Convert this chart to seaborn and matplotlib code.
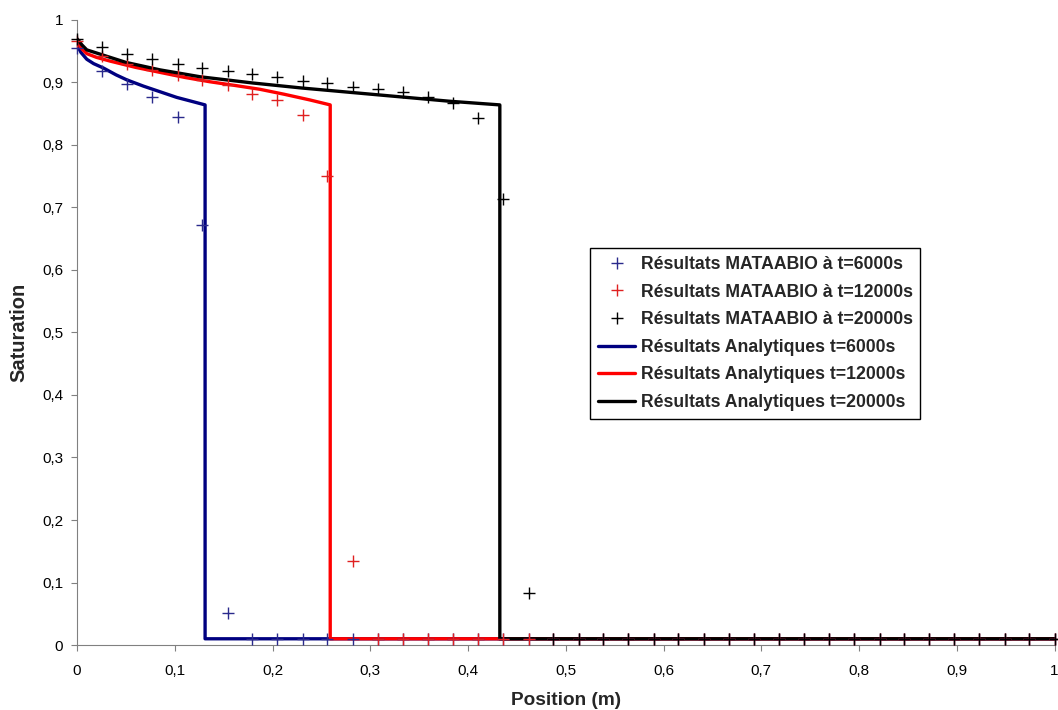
import matplotlib
matplotlib.use("Agg")
import matplotlib.pyplot as plt
import seaborn as sns
from matplotlib.lines import Line2D

# MATAABIO sample positions (m)
x_pts = [0.0, 0.026, 0.051, 0.077, 0.103, 0.128, 0.154, 0.179, 0.205, 0.231,
         0.256, 0.282, 0.308, 0.333, 0.359, 0.385, 0.41, 0.436, 0.462, 0.487,
         0.513, 0.538, 0.564, 0.59, 0.615, 0.641, 0.667, 0.692, 0.718, 0.744,
         0.769, 0.795, 0.821, 0.846, 0.872, 0.897, 0.923, 0.949, 0.974, 1.0]

# MATAABIO saturation values
sat_6000 = [0.955, 0.919, 0.897, 0.877, 0.845, 0.672, 0.052] + [0.01] * 33
sat_12000 = [0.966, 0.942, 0.929, 0.92, 0.912, 0.904, 0.896, 0.882, 0.872, 0.848,
             0.75, 0.134] + [0.01] * 28
sat_20000 = [0.97, 0.956, 0.946, 0.937, 0.93, 0.923, 0.919, 0.914, 0.908, 0.903,
             0.899, 0.893, 0.889, 0.884, 0.876, 0.867, 0.843, 0.713, 0.083] + [0.01] * 21

# analytical profiles
ana_x_6000 = [0, 0.004, 0.01, 0.017, 0.027, 0.04, 0.051, 0.068, 0.085, 0.102, 0.119, 0.131, 0.131, 1.0]
ana_y_6000 = [0.96, 0.948, 0.937, 0.93, 0.923, 0.912, 0.904, 0.894, 0.885, 0.876, 0.869, 0.864, 0.01, 0.01]
ana_x_12000 = [0, 0.004, 0.01, 0.02, 0.034, 0.06, 0.085, 0.11, 0.136, 0.162, 0.187, 0.212, 0.238, 0.259, 0.259, 1.0]
ana_y_12000 = [0.967, 0.955, 0.946, 0.94, 0.934, 0.924, 0.916, 0.908, 0.901, 0.895, 0.889, 0.881, 0.872, 0.864, 0.01, 0.01]
ana_x_20000 = [0, 0.005, 0.01, 0.026, 0.05, 0.085, 0.126, 0.18, 0.23, 0.28, 0.33, 0.38, 0.4325, 0.4325, 1.0]
ana_y_20000 = [0.97, 0.96, 0.952, 0.944, 0.932, 0.92, 0.909, 0.899, 0.891, 0.884, 0.877, 0.87, 0.864, 0.01, 0.01]

ticks = [0, 0.1, 0.2, 0.3, 0.4, 0.5, 0.6, 0.7, 0.8, 0.9, 1.0]
tick_labels = ["0", "0,1", "0,2", "0,3", "0,4", "0,5", "0,6", "0,7", "0,8", "0,9", "1"]

sns.set_style("ticks")
plt.rcParams['font.family'] = ['Liberation Sans', 'DejaVu Sans']

fig = plt.figure(figsize=(10.58, 7.10), dpi=100)
ax = fig.add_axes([0.0728, 0.0915, 0.924, 0.8805])

blue_line, red_line = "#000080", "#ff0000"
blue_pt, red_pt = "#2a2a8c", "#e02020"

for xs, ys, c in [(ana_x_6000, ana_y_6000, blue_line),
                  (ana_x_12000, ana_y_12000, red_line),
                  (ana_x_20000, ana_y_20000, "black")]:
    sns.lineplot(x=xs, y=ys, sort=False, estimator=None, color=c, lw=2.4, ax=ax)

for ys, c in [(sat_6000, blue_pt), (sat_12000, red_pt), (sat_20000, "black")]:
    sns.scatterplot(x=x_pts, y=ys, marker="+", s=80, color=c, linewidth=1.0,
                    ax=ax, clip_on=False, zorder=3)

ax.set_xlim(0, 1)
ax.set_ylim(0, 1)
ax.set_xticks(ticks)
ax.set_xticklabels(tick_labels)
ax.set_yticks(ticks)
ax.set_yticklabels(tick_labels)
ax.tick_params(labelsize=11, length=4, color="#808080", colors="black")
ax.tick_params(axis="x", pad=10)
ax.tick_params(axis="y", pad=6)
for s in ["left", "bottom"]:
    ax.spines[s].set_color("#808080")
sns.despine(ax=ax)

ax.set_xlabel("Position (m)", fontsize=13.7, fontweight="bold", labelpad=10)
ax.set_ylabel("Saturation", fontsize=14.5, fontweight="bold", labelpad=10)

handles = [
    Line2D([], [], ls="none", marker="+", ms=9, mew=1, color=blue_pt),
    Line2D([], [], ls="none", marker="+", ms=9, mew=1, color=red_pt),
    Line2D([], [], ls="none", marker="+", ms=9, mew=1, color="black"),
    Line2D([], [], color=blue_line, lw=2.4),
    Line2D([], [], color=red_line, lw=2.4),
    Line2D([], [], color="black", lw=2.4),
]
labels = [
    "Résultats MATAABIO à t=6000s",
    "Résultats MATAABIO à t=12000s",
    "Résultats MATAABIO à t=20000s",
    "Résultats Analytiques t=6000s",
    "Résultats Analytiques t=12000s",
    "Résultats Analytiques t=20000s",
]
leg = ax.legend(handles, labels, loc="upper left", bbox_to_anchor=(0.525, 0.635),
                prop={"weight": "bold", "size": 12.7}, frameon=True, fancybox=False,
                edgecolor="black", framealpha=1, borderpad=0.45, labelspacing=0.6,
                handlelength=2.1, handletextpad=0.3, borderaxespad=0)
leg.get_frame().set_linewidth(1.0)

fig.savefig("out.png", dpi=100)
